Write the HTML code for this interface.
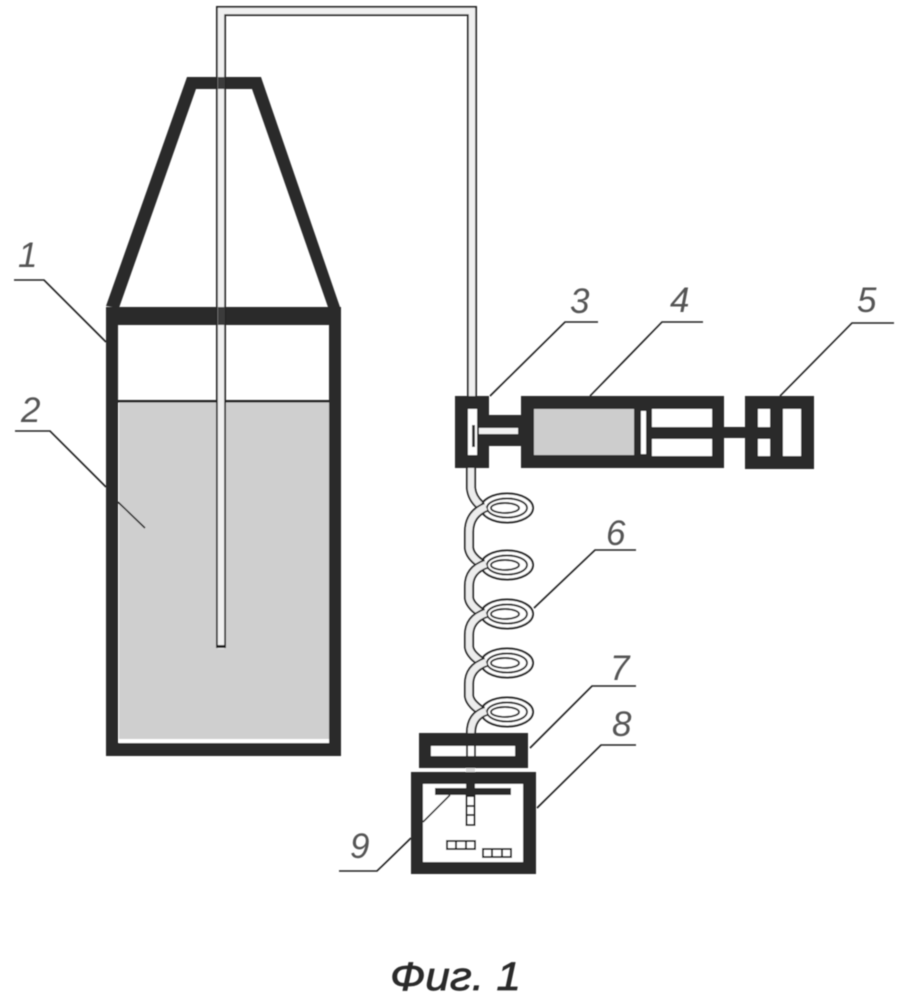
<!DOCTYPE html>
<html>
<head>
<meta charset="utf-8">
<style>
html,body{margin:0;padding:0;background:#fff;width:908px;height:1000px;overflow:hidden}
svg{display:block}
text{font-family:"Liberation Sans","DejaVu Sans",sans-serif;font-style:italic}
.n{font-size:35px;fill:#555}
.l{fill:none;stroke:#222;stroke-width:1.6}
.b{fill:#2b2b2b}
.w{fill:#fff}
.t{fill:none;stroke:#222;stroke-width:10}
.ti{fill:none;stroke:#ededed;stroke-width:6.5}
.c{fill:#fff;stroke:#222;stroke-width:1.9}
</style>
</head>
<body>
<svg width="908" height="1000" viewBox="0 0 908 1000" xmlns="http://www.w3.org/2000/svg">
<defs>
<filter id="s" x="-5%" y="-5%" width="110%" height="110%"><feGaussianBlur stdDeviation="0.45"/></filter>
<g id="rings">
<ellipse class="c" cx="507" cy="0" rx="26" ry="14.500"/>
<ellipse class="c" cx="507" cy="0" rx="20" ry="9.500" fill="#f4f4f4"/>
<ellipse class="c" cx="505" cy="0" rx="14" ry="5"/>
</g>
</defs>
<rect width="908" height="1000" fill="#fff"/>
<g filter="url(#s)">
<!-- container 1 -->
<rect x="119" y="402" width="210" height="340" fill="#cfcfcf"/>
<rect x="119" y="739" width="210" height="4" fill="#fff"/>
<path d="M106 306 L187 77 L261 77 L341 310 L329 310 L252 89 L196 89 L119 308 Z" class="b"/>
<rect x="106" y="307" width="235" height="18" class="b"/>
<rect x="106" y="307" width="12" height="449" class="b"/>
<rect x="329" y="307" width="12" height="449" class="b"/>
<rect x="106" y="743" width="235" height="13" class="b"/>
<rect x="118" y="400" width="211" height="2.5" fill="#222"/>
<!-- tube -->
<path d="M221 647 V11 H472 V400" fill="none" stroke="#222" stroke-width="10"/>
<path d="M221 649 V11 H472 V400" fill="none" stroke="#f0f0f0" stroke-width="6.5"/>
<rect x="216" y="645" width="10" height="3" fill="#222"/>
<rect x="218" y="307" width="7" height="18" fill="#3a3a3a"/>
<rect x="218" y="77" width="7" height="12" fill="#3a3a3a"/>
<!-- block 3 -->
<rect x="455" y="396" width="34" height="72" class="b"/>
<rect x="488" y="415" width="35" height="31" class="b"/>
<rect x="468" y="409" width="9" height="46" class="w"/>
<rect x="472" y="425" width="3" height="22" fill="#333"/>
<rect x="479" y="428" width="39" height="6" fill="#f2f2f2"/>
<!-- block 4 -->
<rect x="521" y="396" width="203" height="72" class="b"/>
<rect x="534" y="409" width="100" height="46" fill="#cdcdcd"/>
<rect x="641" y="411" width="5" height="43" class="w"/>
<rect x="652" y="409" width="60" height="18" class="w"/>
<rect x="652" y="439" width="60" height="17" class="w"/>
<rect x="723" y="427" width="24" height="11" class="b"/>
<!-- block 5 -->
<rect x="745" y="396" width="69" height="73" class="b"/>
<rect x="758" y="409" width="12" height="18" class="w"/>
<rect x="758" y="439" width="12" height="17" class="w"/>
<rect x="783" y="409" width="18" height="47" class="w"/>
<!-- coil rings -->
<use href="#rings" y="508"/>
<use href="#rings" y="565"/>
<use href="#rings" y="614"/>
<use href="#rings" y="663"/>
<use href="#rings" y="712"/>
<!-- coil tube -->
<path class="t" d="M471 468 V488 Q472 498 480 505"/>
<path class="ti" d="M471 468 V488 Q472 498 480 505"/>
<path class="t" d="M486 507 Q469 514 469 532 V548 Q470 556 480 563"/>
<path class="ti" d="M486 507 Q469 514 469 532 V548 Q470 556 480 563"/>
<path class="t" d="M486 564 Q469 570 469 586 V598 Q470 605 480 612"/>
<path class="ti" d="M486 564 Q469 570 469 586 V598 Q470 605 480 612"/>
<path class="t" d="M486 613 Q469 619 469 635 V647 Q470 654 480 661"/>
<path class="ti" d="M486 613 Q469 619 469 635 V647 Q470 654 480 661"/>
<path class="t" d="M486 662 Q469 668 469 684 V696 Q470 703 480 710"/>
<path class="ti" d="M486 662 Q469 668 469 684 V696 Q470 703 480 710"/>
<path class="t" d="M486 711 Q471 716 471 733"/>
<path class="ti" d="M486 711 Q471 716 471 733"/>
<!-- block 7 -->
<rect x="419" y="733" width="109" height="35" class="b"/>
<rect x="431" y="746" width="84" height="10" class="w"/>
<rect x="466" y="746" width="2" height="10" fill="#222"/>
<rect x="474" y="746" width="2" height="10" fill="#222"/>
<rect x="466" y="768" width="9" height="4" fill="#ddd"/>
<!-- block 8 -->
<rect x="411" y="772" width="125" height="102" class="b"/>
<rect x="423" y="784" width="100" height="78" class="w"/>
<rect x="435" y="788" width="76" height="7" class="b"/>
<rect x="466" y="784" width="9" height="5" class="b"/>
<rect x="466.500" y="796" width="8" height="29" fill="#fff" stroke="#222" stroke-width="2"/>
<path d="M466 806H475M466 815H475" stroke="#222" stroke-width="2"/>
<rect x="447" y="841" width="28" height="8" fill="#fff" stroke="#222" stroke-width="2"/>
<path d="M456 840V849M466 840V849" stroke="#222" stroke-width="2"/>
<rect x="483" y="849" width="28" height="8" fill="#fff" stroke="#222" stroke-width="2"/>
<path d="M492 848V858M502 848V858" stroke="#222" stroke-width="2"/>
<!-- leaders -->
<path class="l" d="M14 280 H44 L106 342"/>
<path class="l" d="M15 431 H50 L106 487"/>
<path class="l" d="M118 502 L145 528"/>
<path class="l" d="M490 396 L565 322 H598"/>
<path class="l" d="M590 396 L662 322 H703"/>
<path class="l" d="M780 396 L852 323 H894"/>
<path class="l" d="M534 608 L595 550 H636"/>
<path class="l" d="M530 748 L592 686 H636"/>
<path class="l" d="M537 808 L601 745 H636"/>
<path class="l" d="M450 795 L423 822"/>
<path class="l" d="M411 838 L377 871 H339"/>
</g>
<!-- labels -->
<g filter="url(#s)">
<text class="n" x="18" y="267">1</text>
<text class="n" x="21" y="422">2</text>
<text class="n" x="570" y="313">3</text>
<text class="n" x="670" y="312">4</text>
<text class="n" x="857" y="312">5</text>
<text class="n" x="606" y="545">6</text>
<text class="n" x="610" y="680">7</text>
<text class="n" x="612" y="736">8</text>
<text class="n" x="350" y="858">9</text>
<text x="390" y="990" font-size="40" fill="#2a2a2a" stroke="#2a2a2a" stroke-width="0.7" textLength="131" lengthAdjust="spacingAndGlyphs">Фиг. 1</text>
</g>
</svg>
</body>
</html>
